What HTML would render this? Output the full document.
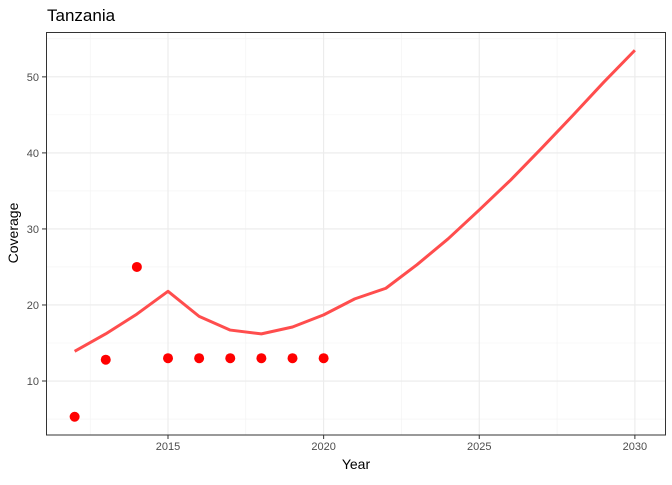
<!DOCTYPE html>
<html><head><meta charset="utf-8"><style>
body{margin:0;background:#fff;font-family:"Liberation Sans",sans-serif}
</style></head><body>
<svg id="chart" width="672" height="480" xmlns="http://www.w3.org/2000/svg">
<rect width="672" height="480" fill="#fff"/>
<text x="47" y="21" font-size="17" fill="#000">Tanzania</text>
<g id="grid"></g>
<g id="marks"></g>
<rect x="46.5" y="32.5" width="619" height="402.5" fill="none" stroke="#333" stroke-width="1"/>
<g id="axes"></g>
<text x="356" y="469" font-size="14" text-anchor="middle">Year</text>
<text x="18" y="233" font-size="14" text-anchor="middle" transform="rotate(-90 18 233)">Coverage</text>
</svg>
<script>
const pointYears=[2012,2013,2014,2015,2016,2017,2018,2019,2020];
const pointValues=[5.3,12.8,25,13,13,13,13,13,13];
const lineYears=[2012,2013,2014,2015,2016,2017,2018,2019,2020,2021,2022,2023,2024,2025,2026,2027,2028,2029,2030];
const lineValues=[13.9,16.2,18.8,21.8,18.5,16.7,16.2,17.1,18.7,20.8,22.2,25.3,28.7,32.5,36.4,40.6,44.9,49.3,53.5];
const xTicks=[2015,2020,2025,2030];
const yTicks=[10,20,30,40,50];
const NS="http://www.w3.org/2000/svg";
const L=46,R=666,T=32,B=435;
const x0=2011.08,x1=2031.0,y0=2.9,y1=55.9;
const sx=v=>L+(v-x0)/(x1-x0)*(R-L);
const sy=v=>B-(v-y0)/(y1-y0)*(B-T);
function mk(tag,attrs,parent){const e=document.createElementNS(NS,tag);for(const k in attrs)e.setAttribute(k,attrs[k]);parent.appendChild(e);return e;}
const grid=document.getElementById('grid'),axes=document.getElementById('axes'),marks=document.getElementById('marks');
const minorX=[2012.5,2017.5,2022.5,2027.5],minorY=[5,15,25,35,45,55];
minorX.forEach(v=>{const l=mk('line',{x1:sx(v),x2:sx(v),y1:T,y2:B,stroke:'#f2f2f2','stroke-width':0.6},grid);

});
minorY.forEach(v=>{if(v>y1)return;const l=mk('line',{x1:L,x2:R,y1:sy(v),y2:sy(v),stroke:'#f2f2f2','stroke-width':0.6},grid);

});
xTicks.forEach(v=>{const l=mk('line',{x1:sx(v),x2:sx(v),y1:T,y2:B,stroke:'#ebebeb','stroke-width':1.1},grid);


const t=mk('line',{x1:sx(v),x2:sx(v),y1:B,y2:B+4,stroke:'#333'},axes);


const tx=mk('text',{x:sx(v),y:B+15,'font-size':11,fill:'#4d4d4d','text-anchor':'middle'},axes);tx.textContent=v;

});
yTicks.forEach(v=>{const l=mk('line',{x1:L,x2:R,y1:sy(v),y2:sy(v),stroke:'#ebebeb','stroke-width':1.1},grid);


const t=mk('line',{x1:L-4,x2:L,y1:sy(v),y2:sy(v),stroke:'#333'},axes);


const tx=mk('text',{x:L-7,y:sy(v)+4,'font-size':11,fill:'#4d4d4d','text-anchor':'end'},axes);tx.textContent=v;

});
const path=mk('polyline',{points:lineYears.map((y,i)=>sx(y)+','+sy(lineValues[i])).join(' '),fill:'none',stroke:'#ff4d4d','stroke-width':3,'stroke-linejoin':'round'},marks);


pointYears.forEach((y,i)=>{const c=mk('circle',{cx:sx(y),cy:sy(pointValues[i]),r:5,fill:'#ff0000'},marks);

});
</script>
</body></html>
